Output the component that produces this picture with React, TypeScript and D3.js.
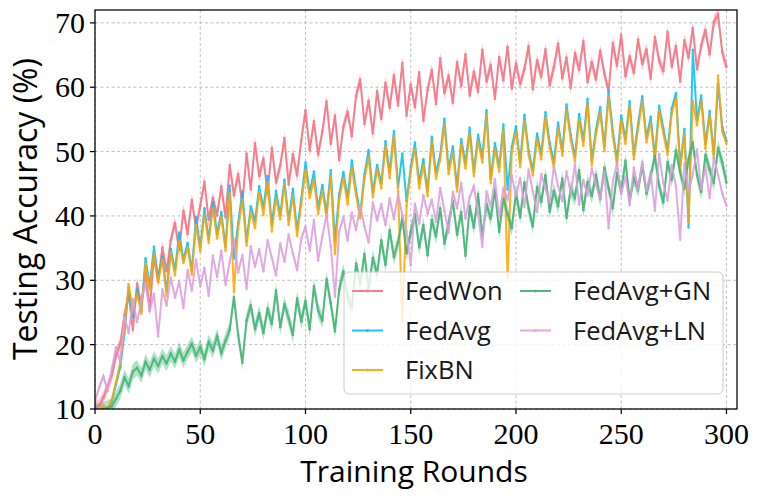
import * as d3 from "d3";

// rounds 0, 2, 4, ..., 300
const rounds = d3.range(0, 301, 2);

const fedWon = [
  10.2, 10.5, 11.8, 13.5, 15.2, 18.4, 20.1, 24.6, 27.8, 22.3,
  29.5, 26.1, 31.2, 25.4, 33.6, 29.8, 35.1, 31.4, 36.2, 38.9,
  34.7, 40.8, 37.2, 42.5, 38.1, 41.6, 45.3, 39.4, 42.8, 40.1,
  44.6, 39.8, 47.9, 43.2, 46.5, 41.8, 49.7, 44.1, 51.3, 46.2,
  48.9, 43.5, 50.6, 45.2, 47.8, 52.1, 44.9, 49.6, 46.3, 51.8,
  56.4, 50.2, 54.7, 49.5, 53.1, 57.8, 51.2, 55.6, 48.7, 53.9,
  56.2, 52.4, 58.6, 61.2, 54.3, 57.9, 52.8, 59.4, 55.1, 60.7,
  56.8, 61.9, 57.2, 63.8, 55.6, 60.4, 56.9, 62.3, 54.8, 59.6,
  62.7, 57.4, 64.5, 59.1, 61.8, 57.6, 63.9, 60.2, 65.1, 58.7,
  62.4, 59.3, 65.8, 60.9, 63.5, 58.2, 64.7, 61.1, 66.3, 59.8,
  63.7, 60.5, 62.8, 66.4, 59.7, 64.2, 61.6, 65.9, 60.3, 63.1,
  66.8, 61.4, 64.6, 59.9, 65.3, 62.7, 67.2, 60.8, 63.9, 61.2,
  65.7, 62.1, 59.4, 66.9, 63.3, 68.1, 61.7, 64.8, 62.2, 67.4,
  63.6, 65.9, 61.3, 67.8, 64.1, 62.5, 68.6, 63.2, 66.4, 60.9,
  67.3, 64.6, 69.2, 62.8, 66.5, 68.9, 65.1, 70.2, 71.3, 65.4, 63.2,
];

const fedAvg = [
  10.3, 9.5, 10.1, 9.8, 11.2, 13.8, 16.5, 21.7, 28.9, 24.3,
  28.6, 25.2, 33.4, 29.1, 35.2, 30.4, 33.7, 28.3, 34.9, 31.6,
  37.4, 33.2, 35.8, 31.5, 39.8, 35.1, 41.2, 36.4, 42.1, 37.3,
  40.6, 35.2, 44.7, 33.4, 38.9, 43.8, 36.1, 41.5, 39.2, 44.6,
  41.3, 46.2, 38.7, 43.9, 40.1, 45.6, 39.4, 44.2, 37.8, 42.7,
  48.3, 43.6, 46.9, 41.2, 44.8, 40.5, 47.1, 36.2, 43.4, 46.8,
  42.9, 48.6, 44.1, 40.3, 46.5, 50.2, 43.7, 47.9, 45.1, 51.6,
  46.8, 53.2, 44.5, 49.7, 42.3, 47.6, 51.4, 45.2, 48.8, 43.9,
  52.3, 46.7, 49.5, 55.1, 47.3, 50.8, 44.6, 51.9, 48.2, 53.7,
  46.9, 52.6, 49.1, 56.4, 45.8, 51.3, 47.6, 54.2, 44.1, 50.7,
  53.9, 48.4, 55.7, 50.2, 47.1, 52.8, 49.6, 56.1, 51.4, 48.3,
  54.5, 50.1, 57.3, 52.6, 49.2, 55.8, 51.7, 58.2, 48.6, 53.4,
  56.9, 50.8, 59.4, 53.2, 48.7, 55.6, 51.9, 57.8, 49.5, 54.3,
  58.6, 52.1, 55.4, 49.3, 57.1, 53.6, 50.2, 56.7, 59.1, 47.8,
  53.5, 38.2, 65.8, 54.9, 58.7, 51.2, 56.3, 49.6, 60.4, 53.8, 51.6,
];

const fixBN = [
  10.1, 9.6, 10.4, 9.9, 11.5, 14.2, 17.3, 22.6, 29.4, 25.1,
  27.9, 24.8, 32.6, 28.5, 34.1, 29.7, 33.2, 27.6, 34.3, 30.8,
  36.2, 32.7, 35.1, 30.9, 38.6, 34.5, 40.3, 35.8, 41.2, 36.5,
  39.8, 34.6, 43.5, 28.2, 37.9, 42.6, 35.4, 40.7, 38.1, 43.7,
  40.2, 45.3, 37.6, 42.8, 39.5, 44.9, 38.6, 43.1, 36.9, 41.8,
  47.1, 42.8, 45.6, 40.3, 43.9, 39.8, 46.2, 34.1, 42.5, 45.9,
  41.8, 47.5, 43.2, 39.6, 45.7, 49.1, 42.9, 47.2, 44.3, 50.8,
  45.9, 52.4, 43.8, 23.5, 41.6, 46.8, 50.5, 44.3, 47.9, 43.1,
  51.4, 45.8, 48.7, 54.2, 46.5, 49.9, 43.8, 51.1, 47.4, 52.8,
  46.2, 51.7, 48.3, 55.6, 45.1, 50.4, 46.9, 53.3, 30.4, 49.8,
  53.1, 47.6, 54.8, 49.5, 46.3, 51.9, 48.8, 55.3, 50.6, 47.5,
  53.7, 49.4, 56.5, 51.8, 48.5, 54.9, 50.9, 57.4, 47.9, 52.6,
  56.1, 50.1, 58.6, 52.4, 47.9, 54.8, 51.2, 57.1, 48.8, 53.5,
  57.8, 51.4, 54.6, 48.6, 56.3, 52.8, 49.5, 55.9, 58.3, 47.1,
  52.7, 39.1, 57.9, 54.1, 57.9, 50.5, 55.6, 48.9, 61.8, 53.1, 51.2,
];

const fedAvgGN = [
  9.8, 9.6, 9.9, 10.2, 10.4, 11.6, 12.8, 14.9, 13.6, 15.8,
  16.4, 15.2, 17.3, 16.1, 17.8, 16.7, 18.2, 17.1, 18.6, 17.4,
  19.2, 17.6, 18.9, 20.1, 18.3, 19.6, 17.8, 20.4, 19.1, 21.3,
  18.7, 20.6, 22.3, 27.4, 21.5, 17.2, 23.8, 26.1, 22.4, 24.9,
  21.8, 25.6, 23.2, 28.4, 22.7, 26.3, 24.1, 21.5, 27.2, 23.6,
  26.8, 22.4, 29.1, 25.3, 23.7, 30.2, 26.4, 22.1, 28.6, 31.4,
  27.3, 25.8, 32.6, 29.4, 34.1, 28.7, 33.5, 30.9, 36.2, 32.4,
  37.8, 33.6, 35.9, 39.7, 34.2, 37.5, 40.3, 35.1, 38.6, 33.9,
  39.4, 36.8, 41.2, 35.7, 38.9, 42.3, 37.1, 40.6, 33.8, 41.5,
  38.2, 43.4, 36.9, 41.8, 39.6, 44.1, 37.5, 42.7, 40.3, 38.1,
  43.6, 39.8, 45.2, 41.1, 38.4, 44.5, 42.2, 46.3, 40.7, 43.9,
  41.5, 45.8, 39.7, 44.2, 42.8, 47.1, 40.9, 45.3, 43.1, 46.4,
  42.6, 47.5, 44.3, 41.2, 46.7, 43.8, 48.6, 42.4, 45.9, 44.1,
  47.9, 43.5, 46.2, 49.3, 44.7, 42.1, 48.4, 45.6, 50.2, 46.8,
  44.2, 48.9, 51.4, 46.3, 43.7, 49.5, 47.2, 45.1, 50.6, 48.3, 45.2,
];

const fedAvgLN = [
  11.2, 13.4, 15.1, 12.8, 16.3, 19.6, 17.4, 24.3, 21.8, 27.1,
  23.5, 26.8, 29.4, 25.2, 27.9, 21.3, 28.6, 26.1, 30.4, 27.3,
  29.8, 25.7, 31.6, 28.4, 33.2, 29.1, 31.9, 27.6, 33.8, 30.5,
  34.6, 29.3, 32.8, 36.4, 31.2, 33.9, 28.7, 35.3, 32.1, 34.8,
  31.4, 36.2, 33.5, 30.8, 35.7, 32.9, 37.1, 34.2, 31.6, 36.5,
  38.3, 34.6, 39.4, 33.1, 36.8, 40.2, 35.3, 27.4, 37.6, 39.8,
  36.2, 40.5, 37.8, 41.6, 38.4, 35.9, 42.1, 39.3, 41.8, 38.6,
  42.7, 39.5, 43.4, 40.1, 37.6, 32.3, 41.9, 38.8, 43.2, 40.4,
  42.5, 39.1, 44.3, 40.8, 37.4, 43.7, 41.2, 45.1, 39.6, 42.9,
  44.6, 40.3, 35.2, 43.8, 41.5, 45.7, 39.9, 44.2, 42.6, 46.3,
  43.1, 45.9, 41.4, 47.2, 43.8, 40.6, 46.5, 44.3, 42.1, 47.8,
  44.7, 42.3, 46.9, 43.5, 48.1, 41.8, 45.6, 43.2, 47.4, 44.9,
  42.6, 46.8, 38.1, 45.3, 48.2, 43.4, 46.1, 41.7, 47.5, 44.2,
  48.4, 43.9, 46.7, 40.8, 49.6, 45.1, 42.4, 47.9, 44.6, 36.3,
  48.1, 43.7, 46.5, 50.3, 44.2, 47.6, 42.8, 49.1, 46.4, 43.5, 41.6,
];

// half width of the shaded spread around each curve
const spreads = [1.0, 0.4, 0.4, 1.2, 0.5];

const seriesNames = ["FedWon", "FedAvg", "FixBN", "FedAvg+GN", "FedAvg+LN"];
const seriesValues = [fedWon, fedAvg, fixBN, fedAvgGN, fedAvgLN];
const colors = ["#f7717f", "#00bfff", "#ffa500", "#3cb371", "#dda0dd"];

const xTicks = [0, 50, 100, 150, 200, 250, 300];
const yTicks = [10, 20, 30, 40, 50, 60, 70];

const width = 762;
const height = 499;
const marginLeft = 95;
const marginRight = 25;
const marginTop = 10;
const marginBottom = 90;

export default function App() {
  const x = d3.scaleLinear([0, 305], [marginLeft, width - marginRight]);
  const y = d3.scaleLinear([10, 72], [height - marginBottom, marginTop]);

  const line = d3
    .line<number>()
    .x((_d, i) => x(rounds[i]))
    .y((d) => y(d));

  const band = (s: number) =>
    d3
      .area<number>()
      .x((_d, i) => x(rounds[i]))
      .y0((d) => y(d - s))
      .y1((d) => y(d + s));

  const plotW = width - marginLeft - marginRight;
  const plotH = height - marginTop - marginBottom;

  const legendX = 344;
  const legendY = 272;
  const rowGap = 39.5;

  return (
    <svg
      width={width}
      height={height}
      style={{ position: "fixed", left: 0, top: 0, background: "white" }}
    >
      <defs>
        <clipPath id="plot">
          <rect x={marginLeft} y={marginTop} width={plotW} height={plotH} />
        </clipPath>
      </defs>

      {/* grid */}
      <g stroke="#b0b0b0" strokeWidth={0.8} strokeDasharray="3,2.5">
        {xTicks.map((t) => (
          <line key={t} x1={x(t)} x2={x(t)} y1={marginTop} y2={height - marginBottom} />
        ))}
        {yTicks.map((t) => (
          <line key={t} x1={marginLeft} x2={width - marginRight} y1={y(t)} y2={y(t)} />
        ))}
      </g>

      <g clipPath="url(#plot)">
        {seriesValues.map((vals, k) => (
          <path key={"b" + k} d={band(spreads[k])(vals) || ""} fill={colors[k]} opacity={0.4} />
        ))}
        {seriesValues.map((vals, k) => (
          <g key={"l" + k} opacity={0.85}>
            <path d={line(vals) || ""} fill="none" stroke={colors[k]} strokeWidth={2} />
            {vals.map((v, i) => (
              <circle key={i} cx={x(rounds[i])} cy={y(v)} r={1.3} fill={colors[k]} />
            ))}
          </g>
        ))}
      </g>

      {/* frame */}
      <rect
        x={marginLeft}
        y={marginTop}
        width={plotW}
        height={plotH}
        fill="none"
        stroke="black"
        strokeWidth={1.25}
      />

      {/* x axis */}
      <g fontFamily="'Liberation Serif', serif" fontSize={30} textAnchor="middle">
        {xTicks.map((t) => (
          <g key={t}>
            <line x1={x(t)} x2={x(t)} y1={height - marginBottom} y2={height - marginBottom + 5} stroke="black" strokeWidth={1.25} />
            <text x={x(t)} y={height - marginBottom + 35}>{t}</text>
          </g>
        ))}
      </g>
      {/* y axis */}
      <g fontFamily="'Liberation Serif', serif" fontSize={30} textAnchor="end">
        {yTicks.map((t) => (
          <g key={t}>
            <line x1={marginLeft - 5} x2={marginLeft} y1={y(t)} y2={y(t)} stroke="black" strokeWidth={1.25} />
            <text x={marginLeft - 10} y={y(t)} dy="0.34em">{t}</text>
          </g>
        ))}
      </g>

      <text
        x={(marginLeft + width - marginRight) / 2 - 2}
        y={482}
        textAnchor="middle"
        fontFamily="'Open Sans', sans-serif"
        fontSize={30}
      >
        Training Rounds
      </text>
      <text
        transform={`translate(37,209) rotate(-90)`}
        textAnchor="middle"
        fontFamily="'Open Sans', sans-serif"
        fontSize={32}
      >
        Testing Accuracy (%)
      </text>

      {/* legend */}
      <rect
        x={legendX}
        y={legendY}
        width={379}
        height={122}
        rx={5}
        fill="white"
        fillOpacity={0.8}
        stroke="#cccccc"
        strokeWidth={1}
      />
      <g fontFamily="'Open Sans', sans-serif" fontSize={25.5}>
        {seriesNames.map((name, k) => {
          const col = k < 3 ? 0 : 1;
          const row = k < 3 ? k : k - 3;
          const lx = legendX + 8 + col * 168;
          const ly = legendY + 19 + row * rowGap;
          return (
            <g key={name} opacity={0.9}>
              <line x1={lx} x2={lx + 31} y1={ly} y2={ly} stroke={colors[k]} strokeWidth={2} />
              <circle cx={lx + 15.5} cy={ly} r={1.5} fill={colors[k]} />
              <text x={lx + 53} y={ly} dy="0.36em" fill="black">{name}</text>
            </g>
          );
        })}
      </g>
    </svg>
  );
}
